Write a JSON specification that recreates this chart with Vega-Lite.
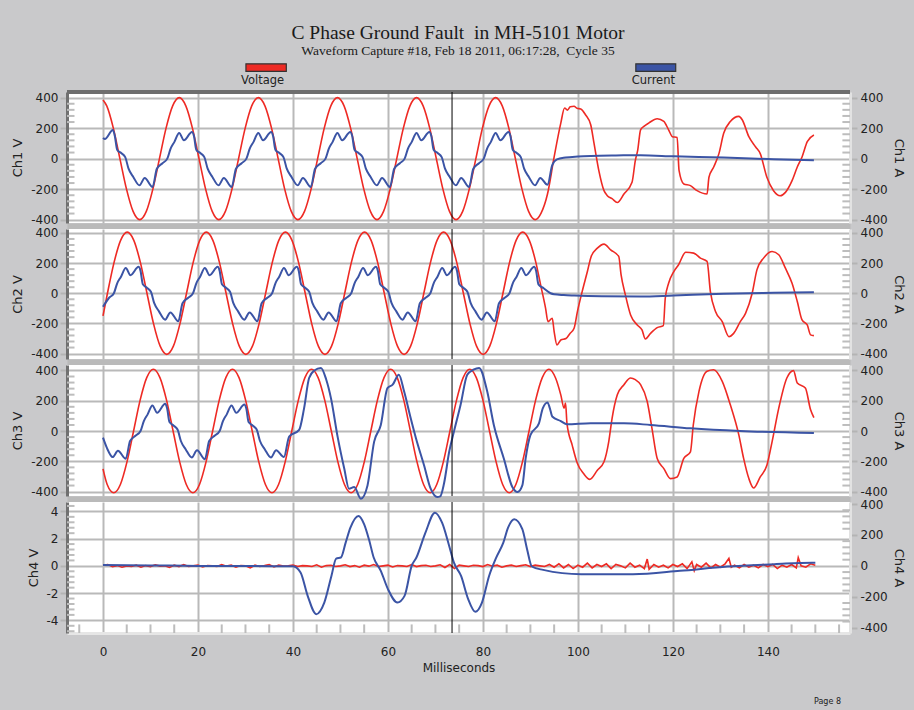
{
"$schema":"https://vega.github.io/schema/vega-lite/v6.json",
"background":"#c9c9cb",
"padding":{"left":11,"top":23,"right":9,"bottom":4},
"title":{"text":"C Phase Ground Fault \u00a0in MH-5101 Motor","subtitle":"Waveform Capture #18, Feb 18 2011, 06:17:28, \u00a0Cycle 35","font":"Liberation Serif","fontSize":19.5,"fontWeight":"normal","color":"#1a1a1a","subtitleFont":"Liberation Serif","subtitleFontSize":13.5,"subtitleColor":"#1a1a1a","subtitlePadding":0,"anchor":"middle","offset":5},
"config":{
"view":{"stroke":null,"fill":"#ffffff"},
"axis":{"labelFont":"DejaVu Sans","labelFontSize":12,"labelColor":"#222222","titleFont":"DejaVu Sans","titleFontSize":13,"titleFontWeight":"normal","titleColor":"#222222","gridColor":"#b9b9b9","gridWidth":2,"gridOpacity":1,"tickColor":"#b4b4b4","tickWidth":2,"tickSize":7,"labelPadding":2,"labelOverlap":false}
},
"datasets":{
"mt":[{"v":-360},{"v":-320},{"v":-280},{"v":-240},{"v":-160},{"v":-120},{"v":-80},{"v":-40},{"v":40},{"v":80},{"v":120},{"v":160},{"v":240},{"v":280},{"v":320},{"v":360}],
"mt4":[{"v":-4.8},{"v":-4.4},{"v":-3.6},{"v":-3.2},{"v":-2.8},{"v":-2.4},{"v":-1.6},{"v":-1.2},{"v":-0.8},{"v":-0.4},{"v":0.4},{"v":0.8},{"v":1.2},{"v":1.6},{"v":2.4},{"v":2.8},{"v":3.2},{"v":3.6},{"v":4.4}],
"xm":[{"t":-5},{"t":5},{"t":10},{"t":15},{"t":25},{"t":30},{"t":35},{"t":45},{"t":50},{"t":55},{"t":65},{"t":70},{"t":75},{"t":85},{"t":90},{"t":95},{"t":105},{"t":110},{"t":115},{"t":125},{"t":130},{"t":135},{"t":145},{"t":150},{"t":155}],
"cur":[{"t":73.5}],
"leg":[{"s":"Voltage","a":30.1,"b":38.6,"c":33.6},{"s":"Current","a":112.2,"b":120.6,"c":115.9}],
"v1":[{"t":0,"v":385},{"t":0.79,"v":346},{"t":2.18,"v":200},{"t":3.56,"v":0},{"t":4.95,"v":-200},{"t":6.34,"v":-346},{"t":7.73,"v":-400},{"t":9.12,"v":-346},{"t":10.5,"v":-200},{"t":11.89,"v":0},{"t":13.28,"v":200},{"t":14.67,"v":346},{"t":16.06,"v":400},{"t":17.44,"v":346},{"t":18.83,"v":200},{"t":20.22,"v":0},{"t":21.61,"v":-200},{"t":23.0,"v":-346},{"t":24.38,"v":-400},{"t":25.77,"v":-346},{"t":27.16,"v":-200},{"t":28.55,"v":0},{"t":29.94,"v":200},{"t":31.32,"v":346},{"t":32.71,"v":400},{"t":34.1,"v":346},{"t":35.49,"v":200},{"t":36.88,"v":0},{"t":38.26,"v":-200},{"t":39.65,"v":-346},{"t":41.04,"v":-400},{"t":42.43,"v":-346},{"t":43.82,"v":-200},{"t":45.2,"v":0},{"t":46.59,"v":200},{"t":47.98,"v":346},{"t":49.37,"v":400},{"t":50.76,"v":346},{"t":52.14,"v":200},{"t":53.53,"v":0},{"t":54.92,"v":-200},{"t":56.31,"v":-346},{"t":57.7,"v":-400},{"t":59.08,"v":-346},{"t":60.47,"v":-200},{"t":61.86,"v":0},{"t":63.25,"v":200},{"t":64.64,"v":346},{"t":66.02,"v":400},{"t":67.41,"v":346},{"t":68.8,"v":200},{"t":70.19,"v":0},{"t":71.58,"v":-200},{"t":72.96,"v":-346},{"t":74.35,"v":-400},{"t":75.74,"v":-346},{"t":77.13,"v":-200},{"t":78.52,"v":0},{"t":79.9,"v":200},{"t":81.29,"v":346},{"t":82.68,"v":400},{"t":84.07,"v":346},{"t":85.46,"v":200},{"t":86.84,"v":0},{"t":88.23,"v":-200},{"t":89.62,"v":-346},{"t":91.01,"v":-400},{"t":92.2,"v":-360},{"t":93.6,"v":-232},{"t":95.0,"v":11},{"t":96.4,"v":233},{"t":97.2,"v":332},{"t":97.8,"v":318},{"t":98.4,"v":340},{"t":99.2,"v":344},{"t":99.8,"v":330},{"t":100.6,"v":326},{"t":101.6,"v":288},{"t":102.7,"v":222},{"t":103.4,"v":100},{"t":104.4,"v":-77},{"t":105.5,"v":-210},{"t":106.2,"v":-243},{"t":107.2,"v":-262},{"t":108.3,"v":-288},{"t":109.7,"v":-232},{"t":111.4,"v":-155},{"t":112.1,"v":-11},{"t":112.6,"v":56},{"t":113.2,"v":189},{"t":113.9,"v":211},{"t":114.9,"v":233},{"t":116.7,"v":262},{"t":118.1,"v":244},{"t":119.1,"v":189},{"t":119.9,"v":144},{"t":120.9,"v":139},{"t":121.3,"v":-77},{"t":122.3,"v":-166},{"t":123.7,"v":-177},{"t":125.1,"v":-210},{"t":127.2,"v":-232},{"t":127.6,"v":-122},{"t":128.6,"v":-55},{"t":129.7,"v":33},{"t":130.7,"v":166},{"t":132.1,"v":244},{"t":133.9,"v":277},{"t":134.6,"v":255},{"t":136.0,"v":144},{"t":137.4,"v":78},{"t":138.4,"v":33},{"t":139.8,"v":-122},{"t":141.2,"v":-210},{"t":142.6,"v":-243},{"t":143.7,"v":-221},{"t":145.1,"v":-144},{"t":146.2,"v":-55},{"t":147.2,"v":11},{"t":148.3,"v":111},{"t":149.7,"v":155}],
"i1":[{"t":0,"v":135},{"t":0.4,"v":128},{"t":2.08,"v":188},{"t":2.48,"v":150},{"t":2.98,"v":59},{"t":3.88,"v":35},{"t":4.68,"v":10},{"t":5.38,"v":-66},{"t":6.38,"v":-120},{"t":7.68,"v":-175},{"t":8.78,"v":-127},{"t":10.44,"v":-186},{"t":11.34,"v":-66},{"t":12.54,"v":-30},{"t":13.54,"v":0},{"t":14.24,"v":66},{"t":15.04,"v":110},{"t":16.04,"v":168},{"t":17.04,"v":120},{"t":18.74,"v":175},{"t":19.14,"v":150},{"t":19.64,"v":59},{"t":20.54,"v":35},{"t":21.34,"v":10},{"t":22.04,"v":-66},{"t":23.04,"v":-120},{"t":24.34,"v":-175},{"t":25.44,"v":-127},{"t":27.1,"v":-186},{"t":28.0,"v":-66},{"t":29.2,"v":-30},{"t":30.2,"v":0},{"t":30.9,"v":66},{"t":31.7,"v":110},{"t":32.7,"v":168},{"t":33.7,"v":120},{"t":35.4,"v":175},{"t":35.8,"v":150},{"t":36.3,"v":59},{"t":37.2,"v":35},{"t":38.0,"v":10},{"t":38.7,"v":-66},{"t":39.7,"v":-120},{"t":41.0,"v":-175},{"t":42.1,"v":-127},{"t":43.76,"v":-186},{"t":44.66,"v":-66},{"t":45.86,"v":-30},{"t":46.86,"v":0},{"t":47.56,"v":66},{"t":48.36,"v":110},{"t":49.36,"v":168},{"t":50.36,"v":120},{"t":52.06,"v":175},{"t":52.46,"v":150},{"t":52.96,"v":59},{"t":53.86,"v":35},{"t":54.66,"v":10},{"t":55.36,"v":-66},{"t":56.36,"v":-120},{"t":57.66,"v":-175},{"t":58.76,"v":-127},{"t":60.42,"v":-186},{"t":61.32,"v":-66},{"t":62.52,"v":-30},{"t":63.52,"v":0},{"t":64.22,"v":66},{"t":65.02,"v":110},{"t":66.02,"v":168},{"t":67.02,"v":120},{"t":68.72,"v":175},{"t":69.12,"v":150},{"t":69.62,"v":59},{"t":70.52,"v":35},{"t":71.32,"v":10},{"t":72.02,"v":-66},{"t":73.02,"v":-120},{"t":74.32,"v":-175},{"t":75.42,"v":-127},{"t":77.08,"v":-186},{"t":77.98,"v":-66},{"t":79.18,"v":-30},{"t":80.18,"v":0},{"t":80.88,"v":66},{"t":81.68,"v":110},{"t":82.68,"v":168},{"t":83.68,"v":120},{"t":85.38,"v":175},{"t":85.78,"v":150},{"t":86.28,"v":59},{"t":87.18,"v":35},{"t":87.98,"v":10},{"t":88.68,"v":-66},{"t":89.68,"v":-120},{"t":90.98,"v":-175},{"t":92.08,"v":-127},{"t":93.6,"v":-172},{"t":94.6,"v":-43},{"t":95.6,"v":-5},{"t":97.4,"v":7},{"t":100,"v":14},{"t":102.7,"v":18},{"t":108,"v":21},{"t":113.2,"v":22},{"t":120.2,"v":15},{"t":130.7,"v":7},{"t":141.2,"v":-4},{"t":149.7,"v":-11}],
"v2":[{"t":0,"v":-150},{"t":0.94,"v":0},{"t":2.32,"v":203},{"t":3.71,"v":351},{"t":5.1,"v":405},{"t":6.49,"v":351},{"t":7.88,"v":203},{"t":9.26,"v":0},{"t":10.65,"v":-203},{"t":12.04,"v":-351},{"t":13.43,"v":-405},{"t":14.82,"v":-351},{"t":16.2,"v":-203},{"t":17.59,"v":0},{"t":18.98,"v":203},{"t":20.37,"v":351},{"t":21.76,"v":405},{"t":23.14,"v":351},{"t":24.53,"v":203},{"t":25.92,"v":0},{"t":27.31,"v":-203},{"t":28.7,"v":-351},{"t":30.08,"v":-405},{"t":31.47,"v":-351},{"t":32.86,"v":-203},{"t":34.25,"v":0},{"t":35.64,"v":203},{"t":37.02,"v":351},{"t":38.41,"v":405},{"t":39.8,"v":351},{"t":41.19,"v":203},{"t":42.58,"v":0},{"t":43.96,"v":-203},{"t":45.35,"v":-351},{"t":46.74,"v":-405},{"t":48.13,"v":-351},{"t":49.52,"v":-203},{"t":50.9,"v":0},{"t":52.29,"v":203},{"t":53.68,"v":351},{"t":55.07,"v":405},{"t":56.46,"v":351},{"t":57.84,"v":203},{"t":59.23,"v":0},{"t":60.62,"v":-203},{"t":62.01,"v":-351},{"t":63.4,"v":-405},{"t":64.78,"v":-351},{"t":66.17,"v":-203},{"t":67.56,"v":0},{"t":68.95,"v":203},{"t":70.34,"v":351},{"t":71.72,"v":405},{"t":73.11,"v":351},{"t":74.5,"v":203},{"t":75.89,"v":0},{"t":77.28,"v":-203},{"t":78.66,"v":-351},{"t":80.05,"v":-405},{"t":81.44,"v":-351},{"t":82.83,"v":-203},{"t":84.22,"v":0},{"t":85.6,"v":203},{"t":86.99,"v":351},{"t":88.38,"v":405},{"t":89.77,"v":351},{"t":91.16,"v":203},{"t":92.15,"v":56},{"t":93.2,"v":-100},{"t":93.7,"v":-188},{"t":94.6,"v":-166},{"t":95.0,"v":-254},{"t":95.6,"v":-343},{"t":96.4,"v":-310},{"t":97.5,"v":-300},{"t":98.3,"v":-268},{"t":99.2,"v":-232},{"t":99.9,"v":-122},{"t":100.9,"v":11},{"t":102.0,"v":144},{"t":102.8,"v":244},{"t":104.1,"v":299},{"t":105.5,"v":326},{"t":106.9,"v":288},{"t":108.6,"v":244},{"t":109.1,"v":122},{"t":110.0,"v":-11},{"t":111.1,"v":-144},{"t":112.5,"v":-210},{"t":113.5,"v":-243},{"t":114.2,"v":-303},{"t":115.3,"v":-266},{"t":116.7,"v":-228},{"t":118.0,"v":-215},{"t":118.4,"v":-33},{"t":119.1,"v":66},{"t":120.2,"v":144},{"t":121.2,"v":189},{"t":122.7,"v":272},{"t":124.4,"v":266},{"t":125.8,"v":233},{"t":127.2,"v":211},{"t":127.9,"v":11},{"t":129.0,"v":-122},{"t":130.4,"v":-188},{"t":131.8,"v":-288},{"t":132.8,"v":-266},{"t":134.2,"v":-188},{"t":135.3,"v":-133},{"t":136.7,"v":0},{"t":137.7,"v":155},{"t":139.1,"v":233},{"t":140.9,"v":277},{"t":142.3,"v":255},{"t":143.7,"v":166},{"t":145.1,"v":66},{"t":146.2,"v":-55},{"t":147.2,"v":-177},{"t":148.3,"v":-210},{"t":149.0,"v":-276},{"t":149.7,"v":-281}],
"i2":[{"t":0,"v":-90},{"t":1.29,"v":-30},{"t":2.29,"v":0},{"t":2.99,"v":66},{"t":3.79,"v":110},{"t":4.79,"v":168},{"t":5.79,"v":120},{"t":7.49,"v":175},{"t":7.89,"v":150},{"t":8.39,"v":59},{"t":9.29,"v":35},{"t":10.09,"v":10},{"t":10.79,"v":-66},{"t":11.79,"v":-120},{"t":13.09,"v":-175},{"t":14.19,"v":-127},{"t":15.85,"v":-186},{"t":16.75,"v":-66},{"t":17.95,"v":-30},{"t":18.95,"v":0},{"t":19.65,"v":66},{"t":20.45,"v":110},{"t":21.45,"v":168},{"t":22.45,"v":120},{"t":24.15,"v":175},{"t":24.55,"v":150},{"t":25.05,"v":59},{"t":25.95,"v":35},{"t":26.75,"v":10},{"t":27.45,"v":-66},{"t":28.45,"v":-120},{"t":29.75,"v":-175},{"t":30.85,"v":-127},{"t":32.51,"v":-186},{"t":33.41,"v":-66},{"t":34.61,"v":-30},{"t":35.61,"v":0},{"t":36.31,"v":66},{"t":37.11,"v":110},{"t":38.11,"v":168},{"t":39.11,"v":120},{"t":40.81,"v":175},{"t":41.21,"v":150},{"t":41.71,"v":59},{"t":42.61,"v":35},{"t":43.41,"v":10},{"t":44.11,"v":-66},{"t":45.11,"v":-120},{"t":46.41,"v":-175},{"t":47.51,"v":-127},{"t":49.17,"v":-186},{"t":50.07,"v":-66},{"t":51.27,"v":-30},{"t":52.27,"v":0},{"t":52.97,"v":66},{"t":53.77,"v":110},{"t":54.77,"v":168},{"t":55.77,"v":120},{"t":57.47,"v":175},{"t":57.87,"v":150},{"t":58.37,"v":59},{"t":59.27,"v":35},{"t":60.07,"v":10},{"t":60.77,"v":-66},{"t":61.77,"v":-120},{"t":63.07,"v":-175},{"t":64.17,"v":-127},{"t":65.83,"v":-186},{"t":66.73,"v":-66},{"t":67.93,"v":-30},{"t":68.93,"v":0},{"t":69.63,"v":66},{"t":70.43,"v":110},{"t":71.43,"v":168},{"t":72.43,"v":120},{"t":74.13,"v":175},{"t":74.53,"v":150},{"t":75.03,"v":59},{"t":75.93,"v":35},{"t":76.73,"v":10},{"t":77.43,"v":-66},{"t":78.43,"v":-120},{"t":79.73,"v":-175},{"t":80.83,"v":-127},{"t":82.49,"v":-186},{"t":83.39,"v":-66},{"t":84.59,"v":-30},{"t":85.59,"v":0},{"t":86.29,"v":66},{"t":87.09,"v":110},{"t":88.09,"v":168},{"t":89.09,"v":120},{"t":90.79,"v":175},{"t":91.19,"v":150},{"t":91.69,"v":59},{"t":92.8,"v":33},{"t":94.25,"v":0},{"t":95.0,"v":-7},{"t":97,"v":-12},{"t":99.2,"v":-15},{"t":105,"v":-20},{"t":113.2,"v":-22},{"t":120.2,"v":-15},{"t":130.7,"v":-4},{"t":141.2,"v":3},{"t":149.7,"v":7}],
"v3":[{"t":0,"v":-250},{"t":0.88,"v":-353},{"t":2.27,"v":-408},{"t":3.66,"v":-353},{"t":5.05,"v":-204},{"t":6.44,"v":0},{"t":7.82,"v":204},{"t":9.21,"v":353},{"t":10.6,"v":408},{"t":11.99,"v":353},{"t":13.38,"v":204},{"t":14.76,"v":0},{"t":16.15,"v":-204},{"t":17.54,"v":-353},{"t":18.93,"v":-408},{"t":20.32,"v":-353},{"t":21.7,"v":-204},{"t":23.09,"v":0},{"t":24.48,"v":204},{"t":25.87,"v":353},{"t":27.26,"v":408},{"t":28.64,"v":353},{"t":30.03,"v":204},{"t":31.42,"v":0},{"t":32.81,"v":-204},{"t":34.2,"v":-353},{"t":35.58,"v":-408},{"t":36.97,"v":-353},{"t":38.36,"v":-204},{"t":39.75,"v":0},{"t":41.14,"v":204},{"t":42.52,"v":353},{"t":43.91,"v":408},{"t":45.3,"v":353},{"t":46.69,"v":204},{"t":48.08,"v":0},{"t":49.46,"v":-204},{"t":50.85,"v":-353},{"t":52.24,"v":-408},{"t":53.63,"v":-353},{"t":55.02,"v":-204},{"t":56.4,"v":0},{"t":57.79,"v":204},{"t":59.18,"v":353},{"t":60.57,"v":408},{"t":61.96,"v":353},{"t":63.34,"v":204},{"t":64.73,"v":0},{"t":66.12,"v":-204},{"t":67.51,"v":-353},{"t":68.9,"v":-408},{"t":70.28,"v":-353},{"t":71.67,"v":-204},{"t":73.06,"v":0},{"t":74.45,"v":204},{"t":75.84,"v":353},{"t":77.22,"v":408},{"t":78.61,"v":353},{"t":80.0,"v":204},{"t":81.39,"v":0},{"t":82.78,"v":-204},{"t":84.16,"v":-353},{"t":85.55,"v":-408},{"t":86.94,"v":-353},{"t":88.33,"v":-204},{"t":89.72,"v":0},{"t":91.1,"v":204},{"t":92.5,"v":353},{"t":93.9,"v":408},{"t":95.3,"v":350},{"t":96.4,"v":239},{"t":97.1,"v":151},{"t":97.4,"v":184},{"t":97.7,"v":51},{"t":98.8,"v":-93},{"t":99.9,"v":-215},{"t":101.2,"v":-281},{"t":102.5,"v":-319},{"t":104.1,"v":-259},{"t":105.5,"v":-203},{"t":106.5,"v":-70},{"t":107.2,"v":84},{"t":108.3,"v":239},{"t":109.7,"v":306},{"t":111.1,"v":350},{"t":112.1,"v":339},{"t":113.2,"v":306},{"t":114.6,"v":195},{"t":115.6,"v":18},{"t":116.7,"v":-181},{"t":118.1,"v":-248},{"t":119.5,"v":-314},{"t":120.9,"v":-303},{"t":122.3,"v":-181},{"t":123.7,"v":-137},{"t":124.3,"v":40},{"t":125.5,"v":262},{"t":127.2,"v":395},{"t":128.6,"v":405},{"t":130.4,"v":328},{"t":132.1,"v":173},{"t":133.9,"v":-27},{"t":134.9,"v":-181},{"t":136.0,"v":-314},{"t":137.0,"v":-376},{"t":138.4,"v":-303},{"t":139.8,"v":-226},{"t":140.9,"v":-70},{"t":142.3,"v":151},{"t":144.0,"v":350},{"t":145.4,"v":399},{"t":146.2,"v":317},{"t":147.9,"v":284},{"t":149.0,"v":140},{"t":149.7,"v":89}],
"i3":[{"t":0,"v":-44},{"t":0.8,"v":-110},{"t":2.04,"v":-172},{"t":3.14,"v":-130},{"t":4.8,"v":-183},{"t":5.7,"v":-66},{"t":6.9,"v":-30},{"t":7.9,"v":0},{"t":8.6,"v":66},{"t":9.4,"v":110},{"t":10.4,"v":168},{"t":11.4,"v":120},{"t":13.1,"v":180},{"t":13.5,"v":150},{"t":14.0,"v":59},{"t":14.9,"v":35},{"t":15.7,"v":10},{"t":16.4,"v":-66},{"t":17.4,"v":-120},{"t":18.7,"v":-175},{"t":19.8,"v":-127},{"t":21.46,"v":-186},{"t":22.36,"v":-66},{"t":23.56,"v":-30},{"t":24.56,"v":0},{"t":25.26,"v":66},{"t":26.06,"v":110},{"t":27.06,"v":168},{"t":28.06,"v":120},{"t":29.76,"v":175},{"t":30.16,"v":150},{"t":30.66,"v":59},{"t":31.56,"v":35},{"t":32.36,"v":10},{"t":33.06,"v":-66},{"t":34.06,"v":-120},{"t":35.36,"v":-175},{"t":36.46,"v":-127},{"t":38.1,"v":-172},{"t":39.2,"v":-37},{"t":41.3,"v":7},{"t":42.35,"v":151},{"t":43.4,"v":350},{"t":44.5,"v":400},{"t":45.9,"v":417},{"t":47.0,"v":340},{"t":48.0,"v":217},{"t":49.4,"v":-37},{"t":50.8,"v":-248},{"t":51.8,"v":-381},{"t":52.9,"v":-370},{"t":54.3,"v":-447},{"t":55.7,"v":-359},{"t":57.1,"v":-70},{"t":58.5,"v":40},{"t":59.9,"v":284},{"t":61.0,"v":306},{"t":62.3,"v":372},{"t":63.4,"v":262},{"t":64.8,"v":84},{"t":65.9,"v":-48},{"t":67.6,"v":-226},{"t":69.0,"v":-381},{"t":70.4,"v":-436},{"t":71.0,"v":-432},{"t":71.8,"v":-348},{"t":72.9,"v":-137},{"t":73.9,"v":-4},{"t":75.3,"v":173},{"t":76.7,"v":372},{"t":78.0,"v":405},{"t":79.2,"v":417},{"t":80.9,"v":262},{"t":82.3,"v":40},{"t":84.4,"v":-181},{"t":86.2,"v":-370},{"t":87.3,"v":-403},{"t":88.3,"v":-359},{"t":89.0,"v":-181},{"t":90.0,"v":-27},{"t":91.8,"v":51},{"t":92.6,"v":150},{"t":93.6,"v":189},{"t":94.1,"v":150},{"t":94.6,"v":96},{"t":96.4,"v":66},{"t":97.7,"v":44},{"t":102.7,"v":51},{"t":109.7,"v":51},{"t":115.3,"v":40},{"t":123.7,"v":18},{"t":134.2,"v":0},{"t":149.7,"v":-13}],
"v4":[{"t":0,"v":0.05},{"t":1,"v":0.1},{"t":2,"v":-0.05},{"t":3,"v":0.02},{"t":4,"v":-0.1},{"t":5,"v":0},{"t":6,"v":-0.05},{"t":7,"v":0.05},{"t":8,"v":-0.1},{"t":9,"v":0.02},{"t":10,"v":-0.05},{"t":11,"v":0.08},{"t":12,"v":-0.02},{"t":13,"v":0},{"t":14,"v":-0.12},{"t":15,"v":0.05},{"t":16,"v":-0.05},{"t":17,"v":0.1},{"t":18,"v":-0.05},{"t":19,"v":0},{"t":20,"v":0.05},{"t":21,"v":-0.08},{"t":22,"v":0.02},{"t":23,"v":0},{"t":24,"v":-0.05},{"t":25,"v":0.1},{"t":26,"v":-0.02},{"t":27,"v":0.05},{"t":28,"v":-0.1},{"t":29,"v":0.02},{"t":30,"v":0},{"t":31,"v":-0.15},{"t":32,"v":0.05},{"t":33,"v":-0.05},{"t":34,"v":0.02},{"t":35,"v":0.1},{"t":36,"v":-0.08},{"t":37,"v":0.05},{"t":38,"v":-0.02},{"t":39,"v":0},{"t":40,"v":0.05},{"t":41,"v":-0.05},{"t":42,"v":0.02},{"t":43,"v":0},{"t":44,"v":-0.05},{"t":45,"v":0.08},{"t":46,"v":-0.1},{"t":47,"v":0.02},{"t":48,"v":0.05},{"t":49,"v":-0.05},{"t":50,"v":0},{"t":51,"v":0.08},{"t":52,"v":-0.05},{"t":53,"v":0.02},{"t":54,"v":-0.1},{"t":55,"v":0.05},{"t":56,"v":-0.02},{"t":57,"v":0.1},{"t":58,"v":-0.05},{"t":59,"v":0},{"t":60,"v":0.05},{"t":61,"v":-0.08},{"t":62,"v":0.02},{"t":63,"v":0},{"t":64,"v":-0.05},{"t":65,"v":0.1},{"t":66,"v":-0.05},{"t":67,"v":0.02},{"t":68,"v":0.05},{"t":69,"v":-0.05},{"t":70,"v":0},{"t":71,"v":0.08},{"t":72,"v":-0.12},{"t":73,"v":0.1},{"t":74,"v":-0.2},{"t":75,"v":0.05},{"t":76,"v":0},{"t":77,"v":-0.05},{"t":78,"v":0.05},{"t":79,"v":0.02},{"t":80,"v":-0.05},{"t":81,"v":0.1},{"t":82,"v":-0.02},{"t":83,"v":0.05},{"t":84,"v":-0.1},{"t":85,"v":0},{"t":86,"v":0.05},{"t":87,"v":-0.05},{"t":88,"v":0.02},{"t":89,"v":0.08},{"t":90,"v":-0.05},{"t":91,"v":0.05},{"t":92,"v":0},{"t":93,"v":-0.05},{"t":94,"v":0.1},{"t":95,"v":-0.1},{"t":96,"v":0.15},{"t":97,"v":-0.15},{"t":98,"v":0.1},{"t":99,"v":-0.2},{"t":100,"v":0.05},{"t":101,"v":-0.1},{"t":102,"v":0.2},{"t":103,"v":-0.15},{"t":104,"v":0.1},{"t":105,"v":-0.05},{"t":106,"v":0.15},{"t":107,"v":-0.2},{"t":108,"v":0.1},{"t":109,"v":0},{"t":110,"v":-0.15},{"t":111,"v":0.2},{"t":112,"v":-0.1},{"t":113,"v":0.05},{"t":114,"v":-0.2},{"t":114.6,"v":0.5},{"t":115,"v":-0.25},{"t":116,"v":0.1},{"t":117,"v":-0.1},{"t":118,"v":0.05},{"t":119,"v":-0.15},{"t":120,"v":0.1},{"t":121,"v":-0.05},{"t":122,"v":0.15},{"t":123,"v":-0.2},{"t":124,"v":0.3},{"t":124.5,"v":-0.35},{"t":125,"v":0.1},{"t":126,"v":-0.1},{"t":127,"v":0.2},{"t":128,"v":-0.15},{"t":129,"v":0.1},{"t":130,"v":-0.1},{"t":131,"v":0.15},{"t":131.8,"v":0.55},{"t":132.3,"v":-0.1},{"t":133,"v":0.05},{"t":134,"v":-0.15},{"t":135,"v":0.1},{"t":136,"v":-0.1},{"t":137,"v":0.05},{"t":138,"v":-0.15},{"t":139,"v":0.1},{"t":140,"v":-0.05},{"t":141,"v":0.1},{"t":142,"v":-0.2},{"t":143,"v":0.05},{"t":144,"v":-0.1},{"t":145,"v":0.1},{"t":146,"v":-0.15},{"t":146.4,"v":0.6},{"t":147,"v":0},{"t":148,"v":-0.1},{"t":149,"v":0.15},{"t":150,"v":0.05}],
"i4":[{"t":0,"v":5},{"t":10,"v":3},{"t":20,"v":0},{"t":30,"v":0},{"t":40,"v":-3},{"t":41.6,"v":-43},{"t":43.1,"v":-194},{"t":44.9,"v":-312},{"t":46.6,"v":-237},{"t":48.1,"v":-65},{"t":49.1,"v":47},{"t":50.1,"v":54},{"t":51.1,"v":150},{"t":52.1,"v":247},{"t":53.8,"v":323},{"t":55.0,"v":269},{"t":56.0,"v":172},{"t":57.0,"v":54},{"t":58.5,"v":-32},{"t":60.0,"v":-150},{"t":62.0,"v":-237},{"t":63.5,"v":-194},{"t":65.0,"v":0},{"t":66.0,"v":54},{"t":67.9,"v":215},{"t":69.9,"v":344},{"t":71.4,"v":279},{"t":72.9,"v":129},{"t":73.9,"v":21},{"t":75.4,"v":-65},{"t":76.9,"v":-215},{"t":78.4,"v":-297},{"t":79.8,"v":-237},{"t":81.3,"v":-65},{"t":82.8,"v":54},{"t":84.3,"v":150},{"t":85.3,"v":247},{"t":86.6,"v":301},{"t":88.3,"v":237},{"t":89.3,"v":108},{"t":90.3,"v":-4},{"t":92.7,"v":-26},{"t":100.7,"v":-54},{"t":111.6,"v":-54},{"t":121.5,"v":-32},{"t":131.5,"v":-4},{"t":141.4,"v":11},{"t":149.3,"v":21},{"t":150,"v":21}]
},
"spacing":6,
"bounds":"flush",
"vconcat":[
{
"width":783,"height":131,
"layer":[
{"layer":[
{"data":{"name":"mt"},"mark":{"type":"rule","color":"#bdbdbd","strokeWidth":2},"encoding":{"x":{"datum":-7.58,"type":"quantitative","scale":{"domain":[-7.58,157.3],"nice":false,"zero":false}},"x2":{"datum":-6.0},"y":{"field":"v","type":"quantitative","scale":{"domain":[-422,437],"nice":false,"zero":false}}}},
{"data":{"name":"v1"},"mark":{"type":"line","color":"#ee2a24","strokeWidth":1.6,"interpolate":"monotone"},"encoding":{"x":{"field":"t","type":"quantitative","scale":{"domain":[-7.58,157.3],"nice":false,"zero":false},"axis":{"orient":"bottom","values":[0,20,40,60,80,100,120,140],"tickCount":20,"grid":true,"labels":false,"ticks":false,"domainColor":"#bababa","domainWidth":6,"offset":3,"title":null}},"y":{"field":"v","type":"quantitative","scale":{"domain":[-422,437],"nice":false,"zero":false},"axis":{"orient":"left","values":[-400,-200,0,200,400],"tickCount":10,"labelExpr":"replace(datum.label,'−','-')","labelOverlap":false,"title":"Ch1 V","grid":true,"domainColor":"#707070","domainWidth":3,"titlePadding":6}}}},
{"data":{"name":"cur"},"mark":{"type":"rule","color":"#6e6e6e","strokeWidth":4},"encoding":{"y":{"datum":437,"type":"quantitative","scale":{"domain":[-422,437],"nice":false,"zero":false}}}},
{"data":{"name":"leg"},"mark":{"type":"rect","stroke":"#333333","strokeWidth":1.2},"encoding":{"x":{"field":"a","type":"quantitative","scale":{"domain":[-7.58,157.3],"nice":false,"zero":false}},"x2":{"field":"b"},"y":{"datum":572,"type":"quantitative","scale":{"domain":[-422,437],"nice":false,"zero":false}},"y2":{"datum":622},"color":{"field":"s","type":"nominal","scale":{"domain":["Voltage","Current"],"range":["#ee2a24","#3b54a5"]},"legend":null}}},
{"data":{"name":"leg"},"mark":{"type":"text","font":"DejaVu Sans","fontSize":11.5,"color":"#222222","baseline":"middle"},"encoding":{"x":{"field":"c","type":"quantitative","scale":{"domain":[-7.58,157.3],"nice":false,"zero":false}},"y":{"datum":509,"type":"quantitative","scale":{"domain":[-422,437],"nice":false,"zero":false}},"text":{"field":"s"}}}
]},
{"layer":[
{"data":{"name":"mt"},"mark":{"type":"rule","color":"#bdbdbd","strokeWidth":2},"encoding":{"x":{"datum":155.7,"type":"quantitative","scale":{"domain":[-7.58,157.3],"nice":false,"zero":false}},"x2":{"datum":157.3},"y":{"field":"v","type":"quantitative","scale":{"domain":[-422,437],"nice":false,"zero":false}}}},
{"data":{"name":"i1"},"mark":{"type":"line","color":"#3b54a5","strokeWidth":2,"interpolate":"monotone"},"encoding":{"x":{"field":"t","type":"quantitative","scale":{"domain":[-7.58,157.3],"nice":false,"zero":false}},"y":{"field":"v","type":"quantitative","scale":{"domain":[-422,437],"nice":false,"zero":false},"axis":{"orient":"right","values":[-400,-200,0,200,400],"tickCount":10,"labelExpr":"replace(datum.label,'−','-')","labelOverlap":false,"title":"Ch1 A","grid":false,"domainColor":"#e2e2e2","domainWidth":3,"labelPadding":3,"titlePadding":4}}}}
]},
{"data":{"name":"cur"},"mark":{"type":"rule","color":"#000000","strokeWidth":1},"encoding":{"x":{"field":"t","type":"quantitative","scale":{"domain":[-7.58,157.3],"nice":false,"zero":false}}}}
],
"resolve":{"scale":{"y":"independent"}}
},
{
"width":783,"height":130,
"layer":[
{"layer":[
{"data":{"name":"mt"},"mark":{"type":"rule","color":"#bdbdbd","strokeWidth":2},"encoding":{"x":{"datum":-7.58,"type":"quantitative","scale":{"domain":[-7.58,157.3],"nice":false,"zero":false}},"x2":{"datum":-6.0},"y":{"field":"v","type":"quantitative","scale":{"domain":[-436,426],"nice":false,"zero":false}}}},
{"data":{"name":"v2"},"mark":{"type":"line","color":"#ee2a24","strokeWidth":1.6,"interpolate":"monotone"},"encoding":{"x":{"field":"t","type":"quantitative","scale":{"domain":[-7.58,157.3],"nice":false,"zero":false},"axis":{"orient":"bottom","values":[0,20,40,60,80,100,120,140],"tickCount":20,"grid":true,"labels":false,"ticks":false,"domainColor":"#bababa","domainWidth":6,"offset":3,"title":null}},"y":{"field":"v","type":"quantitative","scale":{"domain":[-436,426],"nice":false,"zero":false},"axis":{"orient":"left","values":[-400,-200,0,200,400],"tickCount":10,"labelExpr":"replace(datum.label,'−','-')","labelOverlap":false,"title":"Ch2 V","grid":true,"domainColor":"#707070","domainWidth":3,"titlePadding":6}}}}
]},
{"layer":[
{"data":{"name":"mt"},"mark":{"type":"rule","color":"#bdbdbd","strokeWidth":2},"encoding":{"x":{"datum":155.7,"type":"quantitative","scale":{"domain":[-7.58,157.3],"nice":false,"zero":false}},"x2":{"datum":157.3},"y":{"field":"v","type":"quantitative","scale":{"domain":[-436,426],"nice":false,"zero":false}}}},
{"data":{"name":"i2"},"mark":{"type":"line","color":"#3b54a5","strokeWidth":2,"interpolate":"monotone"},"encoding":{"x":{"field":"t","type":"quantitative","scale":{"domain":[-7.58,157.3],"nice":false,"zero":false}},"y":{"field":"v","type":"quantitative","scale":{"domain":[-436,426],"nice":false,"zero":false},"axis":{"orient":"right","values":[-400,-200,0,200,400],"tickCount":10,"labelExpr":"replace(datum.label,'−','-')","labelOverlap":false,"title":"Ch2 A","grid":false,"domainColor":"#e2e2e2","domainWidth":3,"labelPadding":3,"titlePadding":4}}}}
]},
{"data":{"name":"cur"},"mark":{"type":"rule","color":"#000000","strokeWidth":1},"encoding":{"x":{"field":"t","type":"quantitative","scale":{"domain":[-7.58,157.3],"nice":false,"zero":false}}}}
],
"resolve":{"scale":{"y":"independent"}}
},
{
"width":783,"height":131,
"layer":[
{"layer":[
{"data":{"name":"mt"},"mark":{"type":"rule","color":"#bdbdbd","strokeWidth":2},"encoding":{"x":{"datum":-7.58,"type":"quantitative","scale":{"domain":[-7.58,157.3],"nice":false,"zero":false}},"x2":{"datum":-6.0},"y":{"field":"v","type":"quantitative","scale":{"domain":[-429,436],"nice":false,"zero":false}}}},
{"data":{"name":"v3"},"mark":{"type":"line","color":"#ee2a24","strokeWidth":1.6,"interpolate":"monotone"},"encoding":{"x":{"field":"t","type":"quantitative","scale":{"domain":[-7.58,157.3],"nice":false,"zero":false},"axis":{"orient":"bottom","values":[0,20,40,60,80,100,120,140],"tickCount":20,"grid":true,"labels":false,"ticks":false,"domainColor":"#bababa","domainWidth":6,"offset":3,"title":null}},"y":{"field":"v","type":"quantitative","scale":{"domain":[-429,436],"nice":false,"zero":false},"axis":{"orient":"left","values":[-400,-200,0,200,400],"tickCount":10,"labelExpr":"replace(datum.label,'−','-')","labelOverlap":false,"title":"Ch3 V","grid":true,"domainColor":"#707070","domainWidth":3,"titlePadding":6}}}}
]},
{"layer":[
{"data":{"name":"mt"},"mark":{"type":"rule","color":"#bdbdbd","strokeWidth":2},"encoding":{"x":{"datum":155.7,"type":"quantitative","scale":{"domain":[-7.58,157.3],"nice":false,"zero":false}},"x2":{"datum":157.3},"y":{"field":"v","type":"quantitative","scale":{"domain":[-429,436],"nice":false,"zero":false}}}},
{"data":{"name":"i3"},"mark":{"type":"line","color":"#3b54a5","strokeWidth":2,"interpolate":"monotone"},"encoding":{"x":{"field":"t","type":"quantitative","scale":{"domain":[-7.58,157.3],"nice":false,"zero":false}},"y":{"field":"v","type":"quantitative","scale":{"domain":[-429,436],"nice":false,"zero":false},"axis":{"orient":"right","values":[-400,-200,0,200,400],"tickCount":10,"labelExpr":"replace(datum.label,'−','-')","labelOverlap":false,"title":"Ch3 A","grid":false,"domainColor":"#e2e2e2","domainWidth":3,"labelPadding":3,"titlePadding":4}}}}
]},
{"data":{"name":"cur"},"mark":{"type":"rule","color":"#000000","strokeWidth":1},"encoding":{"x":{"field":"t","type":"quantitative","scale":{"domain":[-7.58,157.3],"nice":false,"zero":false}}}}
],
"resolve":{"scale":{"y":"independent"}}
},
{
"width":783,"height":131,
"title":{"text":"Page 8","orient":"bottom","anchor":"end","frame":"group","font":"DejaVu Sans","fontSize":8,"fontWeight":"normal","color":"#222222","offset":25,"dx":-9},
"layer":[
{"layer":[
{"data":{"name":"mt4"},"mark":{"type":"rule","color":"#bdbdbd","strokeWidth":2},"encoding":{"x":{"datum":-7.58,"type":"quantitative","scale":{"domain":[-7.58,157.3],"nice":false,"zero":false}},"x2":{"datum":-6.0},"y":{"field":"v","type":"quantitative","scale":{"domain":[-4.93,4.69],"nice":false,"zero":false}}}},
{"data":{"name":"xm"},"mark":{"type":"rule","color":"#bdbdbd","strokeWidth":2},"encoding":{"x":{"field":"t","type":"quantitative","scale":{"domain":[-7.58,157.3],"nice":false,"zero":false}},"y":{"datum":-4.93,"type":"quantitative","scale":{"domain":[-4.93,4.69],"nice":false,"zero":false}},"y2":{"datum":-4.3}}},
{"data":{"name":"v4"},"mark":{"type":"line","color":"#ee2a24","strokeWidth":1.6},"encoding":{"x":{"field":"t","type":"quantitative","scale":{"domain":[-7.58,157.3],"nice":false,"zero":false},"axis":{"orient":"bottom","values":[0,20,40,60,80,100,120,140],"tickCount":20,"grid":true,"ticks":false,"domainColor":"#e6e6e6","domainWidth":3,"labelPadding":13,"title":"Milliseconds","titleFontSize":12,"titlePadding":5}},"y":{"field":"v","type":"quantitative","scale":{"domain":[-4.93,4.69],"nice":false,"zero":false},"axis":{"orient":"left","values":[-4,-2,0,2,4],"tickCount":10,"labelExpr":"replace(datum.label,'−','-')","labelOverlap":false,"title":"Ch4 V","grid":true,"domainColor":"#707070","domainWidth":3,"titlePadding":6}}}}
]},
{"layer":[
{"data":{"name":"mt"},"mark":{"type":"rule","color":"#bdbdbd","strokeWidth":2},"encoding":{"x":{"datum":155.7,"type":"quantitative","scale":{"domain":[-7.58,157.3],"nice":false,"zero":false}},"x2":{"datum":157.3},"y":{"field":"v","type":"quantitative","scale":{"domain":[-434,413],"nice":false,"zero":false}}}},
{"data":{"name":"i4"},"mark":{"type":"line","color":"#3b54a5","strokeWidth":2,"interpolate":"monotone"},"encoding":{"x":{"field":"t","type":"quantitative","scale":{"domain":[-7.58,157.3],"nice":false,"zero":false}},"y":{"field":"v","type":"quantitative","scale":{"domain":[-434,413],"nice":false,"zero":false},"axis":{"orient":"right","values":[-400,-200,0,200,400],"tickCount":10,"labelExpr":"replace(datum.label,'−','-')","labelOverlap":false,"title":"Ch4 A","grid":false,"domainColor":"#e2e2e2","domainWidth":3,"labelPadding":3,"titlePadding":4}}}}
]},
{"data":{"name":"cur"},"mark":{"type":"rule","color":"#000000","strokeWidth":1},"encoding":{"x":{"field":"t","type":"quantitative","scale":{"domain":[-7.58,157.3],"nice":false,"zero":false}}}}
],
"resolve":{"scale":{"y":"independent"}}
}
]
}
